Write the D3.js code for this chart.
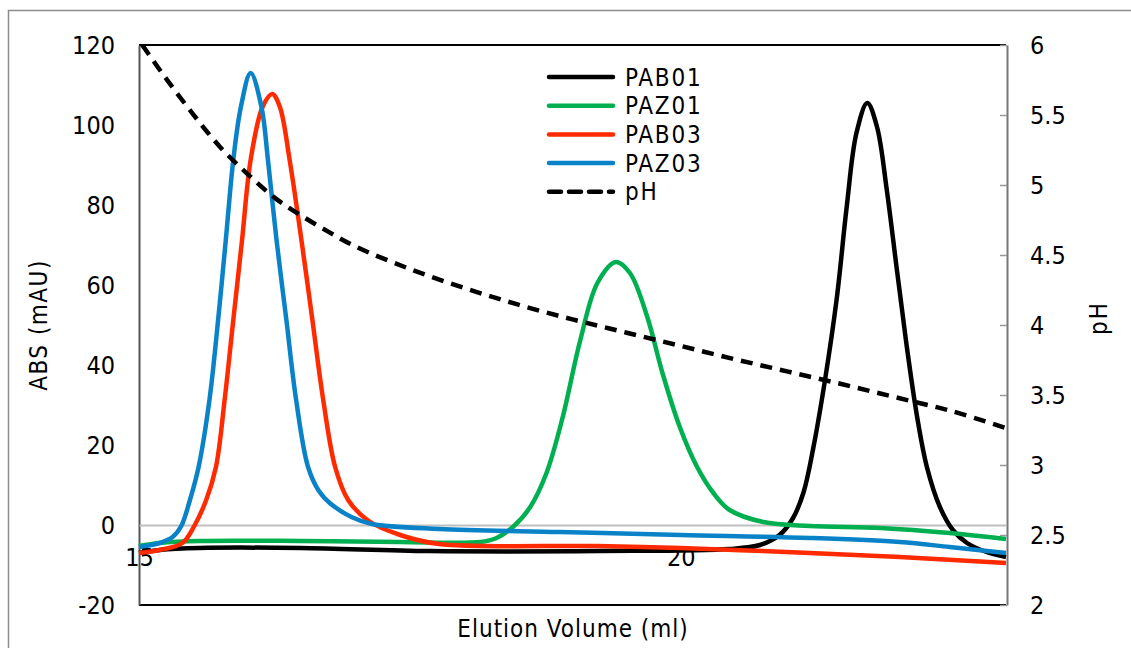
<!DOCTYPE html>
<html>
<head>
<meta charset="utf-8">
<script src="https://cdn.jsdelivr.net/npm/d3@7"></script>
<style>
  body { margin: 0; background: #fff; }
  text { font-family: "Liberation Sans Narrow", "Arial Narrow", "DejaVu Sans Condensed", sans-serif; fill: #000; }
</style>
</head>
<body>
<div class="container"></div>
<script>
// 数据 (elution volume ml, absorbance mAU)
var pab01Vol = [15.00, 15.19, 15.56, 16.49, 17.68, 19.25, 20.45, 20.73, 20.91, 21.03, 21.13, 21.22, 21.33, 21.44, 21.53, 21.62, 21.72, 21.81, 21.90, 21.99, 22.08, 22.18, 22.27, 22.39, 22.51, 22.64, 22.82, 23.00];
var pab01Abs = [-7, -6.25, -5.75, -5.75, -6.5, -6.5, -6, -5, -2.5, 1.5, 8, 19, 36.25, 57, 79.5, 98, 105.5, 99.5, 83.75, 64.5, 45.5, 27, 14.5, 4.5, -1.25, -4.5, -6.75, -8];

var paz01Vol = [15.00, 15.19, 15.56, 16.49, 17.41, 18.15, 18.30, 18.45, 18.61, 18.76, 18.91, 19.07, 19.23, 19.40, 19.53, 19.69, 19.83, 19.99, 20.15, 20.30, 20.45, 20.76, 21.19, 21.84, 22.48, 23.00];
var paz01Abs = [-5.25, -4.5, -4, -4, -4.25, -4.25, -3.25, -0.5, 4.5, 13, 27, 46, 60.5, 65.75, 63, 52, 38, 24.5, 14.5, 8, 3.75, 0.75, -0.25, -0.75, -2, -3.5];

var pab03Vol = [15.00, 15.19, 15.40, 15.51, 15.62, 15.71, 15.79, 15.87, 15.95, 16.03, 16.14, 16.23, 16.30, 16.39, 16.50, 16.60, 16.70, 16.81, 16.93, 17.12, 17.41, 17.77, 19.23, 20.00, 21.19, 22.02, 23.00];
var pab03Abs = [-7, -6.25, -4.5, -0.25, 6.25, 14.5, 31.25, 51.25, 71, 91.25, 104.5, 107.75, 104.5, 91.25, 71, 51.25, 31.25, 14.5, 6.25, 1.0, -2.5, -4.75, -5.25, -5.75, -7, -8, -9.5];

var paz03Vol = [15.00, 15.19, 15.31, 15.39, 15.47, 15.55, 15.65, 15.73, 15.80, 15.87, 15.94, 16.03, 16.13, 16.19, 16.27, 16.36, 16.45, 16.56, 16.66, 16.76, 16.96, 17.15, 17.77, 18.88, 20.00, 21.19, 22.02, 22.48, 23.00];
var paz03Abs = [-5.5, -4.5, -3, -0.25, 6.25, 14.5, 31.25, 51.25, 71, 91.25, 104.5, 113, 104.5, 91.25, 71, 51.25, 31.25, 14.5, 8.5, 5.5, 2, 0.25, -1, -1.75, -2.5, -3.25, -4.25, -5.5, -7];

var phVol = [15.03, 15.25, 15.50, 15.75, 16.00, 16.25, 16.50, 16.75, 17.00, 17.50, 18.00, 18.50, 19.00, 19.50, 20.00, 20.50, 21.00, 21.50, 22.00, 22.50, 23.00];
var phVal = [6.0, 5.76, 5.505, 5.27, 5.08, 4.91, 4.78, 4.665, 4.56, 4.40, 4.265, 4.145, 4.04, 3.945, 3.85, 3.755, 3.665, 3.575, 3.48, 3.385, 3.264];

var seriesNames = ["PAB01", "PAZ01", "PAB03", "PAZ03", "pH"];
var absTicks = [-20, 0, 20, 40, 60, 80, 100, 120];
var phTicks = [2, 2.5, 3, 3.5, 4, 4.5, 5, 5.5, 6];
var volTicks = [15, 20];

// 画布
var W = 1131, H = 648;
var margin = {top: 45, right: 125, bottom: 43, left: 139};
var width = 1006 - margin.left;
var height = 605 - margin.top;

var svg = d3.select(".container").append("svg")
  .attr("width", W).attr("height", H);

// 外框
svg.append("rect")
  .attr("x", 8.5).attr("y", 10.5)
  .attr("width", 1300).attr("height", 700)
  .style("fill", "none").style("stroke", "#8c8c8c").style("stroke-width", 1.5);

var vis = svg.append("g")
  .attr("transform", "translate(" + margin.left + "," + margin.top + ")");

// 比例尺
var x = d3.scaleLinear().domain([15, 23]).range([0, width]);
var y = d3.scaleLinear().domain([-20, 120]).range([height, 0]);
var yR = d3.scaleLinear().domain([2, 6]).range([height, 0]);
var fmt = function(d) { return String(d); };

// 绘图区边框 (上下黑线)
vis.append("line").attr("x1", 0).attr("x2", width).attr("y1", 0).attr("y2", 0)
  .style("stroke", "#000").style("stroke-width", 2);
vis.append("line").attr("x1", 0).attr("x2", width).attr("y1", height).attr("y2", height)
  .style("stroke", "#000").style("stroke-width", 2);

// 左轴
var gL = vis.append("g").call(d3.axisLeft(y).tickValues(absTicks).tickSize(0).tickPadding(24).tickFormat(fmt));
gL.select(".domain").style("stroke", "#555").style("stroke-width", 2);
gL.selectAll("text").style("font-size", "25px").style("font-family", null);

// 右轴
var gR = vis.append("g").attr("transform", "translate(" + (width + 1) + ",0)")
  .call(d3.axisRight(yR).tickValues(phTicks).tickSizeInner(-7).tickSizeOuter(0).tickPadding(23).tickFormat(fmt));
gR.select(".domain").style("stroke", "#777").style("stroke-width", 2);
gR.selectAll(".tick line").style("stroke", "#999").style("stroke-width", 1.5);
gR.selectAll("text").style("font-size", "25px").style("font-family", null);

// 横轴 (在0处)
var gX = vis.append("g").attr("transform", "translate(0," + y(0) + ")")
  .call(d3.axisBottom(x).tickValues(volTicks).tickSize(0).tickPadding(23).tickFormat(fmt));
gX.select(".domain").style("stroke", "#bfbfbf").style("stroke-width", 2);
gX.selectAll("text").style("font-size", "25px").style("font-family", null);

// 轴标题
svg.append("text")
  .attr("transform", "translate(47,325) rotate(-90)")
  .style("text-anchor", "middle").style("font-size", "24px").style("letter-spacing", "1.5px")
  .text("ABS (mAU)");
svg.append("text")
  .attr("transform", "translate(1107,318) rotate(-90)")
  .style("text-anchor", "middle").style("font-size", "24px").style("letter-spacing", "2px")
  .text("pH");
svg.append("text")
  .attr("x", 573).attr("y", 637)
  .style("text-anchor", "middle").style("font-size", "24px").style("letter-spacing", "1px")
  .text("Elution Volume (ml)");

// 线条
var colors = ["#000000", "#00b050", "#ff2a00", "#0a82c8", "#000000"];
var line = d3.line()
  .x(function(d) { return x(d[0]); })
  .y(function(d) { return y(d[1]); })
  .curve(d3.curveCatmullRom.alpha(0.5));
var linePh = d3.line()
  .x(function(d) { return x(d[0]); })
  .y(function(d) { return yR(d[1]); })
  .curve(d3.curveCatmullRom.alpha(0.5));

var absData = [
  d3.zip(pab01Vol, pab01Abs),
  d3.zip(paz01Vol, paz01Abs),
  d3.zip(pab03Vol, pab03Abs),
  d3.zip(paz03Vol, paz03Abs)
];

vis.append("g").attr("class", "lines")
  .selectAll("path")
  .data(absData)
  .enter()
  .append("path")
  .attr("d", line)
  .style("fill", "none")
  .style("stroke", function(d, i) { return colors[i]; })
  .style("stroke-width", 4.5)
  .style("stroke-linejoin", "round");

vis.append("path")
  .datum(d3.zip(phVol, phVal))
  .attr("d", linePh)
  .style("fill", "none")
  .style("stroke", "#000")
  .style("stroke-width", 4.5)
  .style("stroke-dasharray", "12,8");

// 图例
var legend = svg.append("g").attr("class", "legend").attr("transform", "translate(547,77)");
var item = legend.selectAll(".legend-item")
  .data(seriesNames)
  .enter()
  .append("g")
  .attr("class", "legend-item")
  .attr("transform", function(d, i) { return "translate(0," + i * 28.7 + ")"; });
item.append("line")
  .attr("x1", 2).attr("x2", 66).attr("y1", 0).attr("y2", 0)
  .style("stroke", function(d, i) { return colors[i]; })
  .style("stroke-width", 4.5)
  .style("stroke-linecap", "round")
  .style("stroke-dasharray", function(d, i) { return i === 4 ? "12,8" : null; });
item.append("text")
  .attr("x", 78).attr("y", 0).attr("dy", ".36em")
  .style("font-size", "24px").style("letter-spacing", "1.8px")
  .text(function(d) { return d; });
</script>
</body>
</html>
